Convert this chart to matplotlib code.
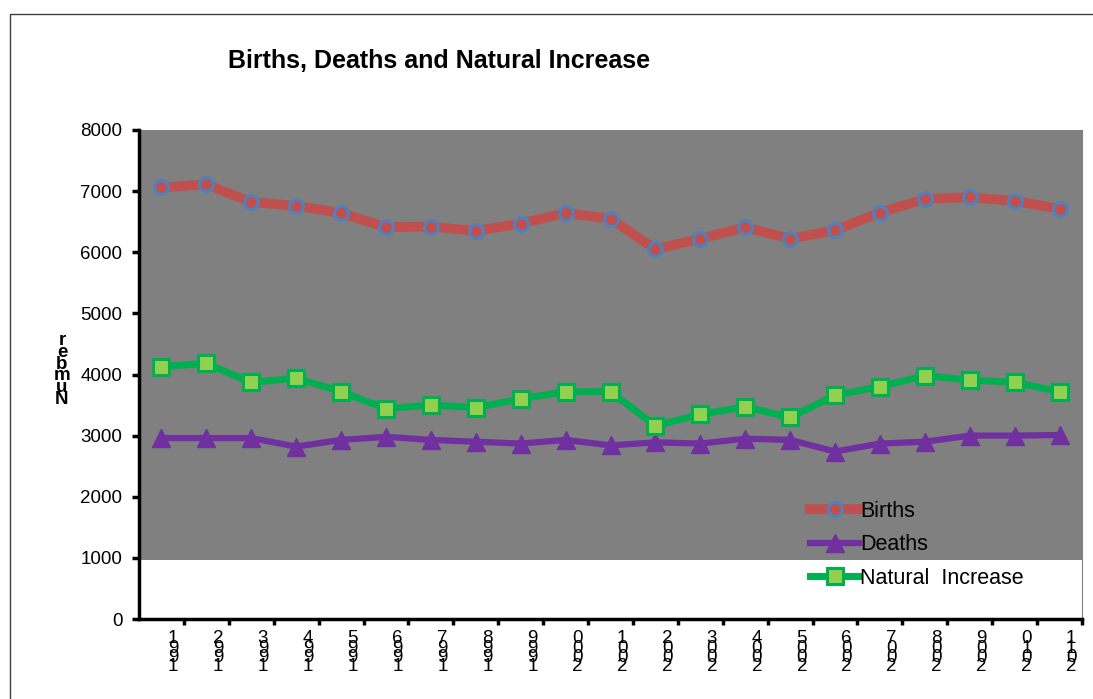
"""Births, deaths and natural increase, 1991-2011, redrawn in the old spreadsheet style."""

import matplotlib

matplotlib.use("Agg")
import matplotlib.pyplot as plt
from matplotlib.patches import Rectangle
import numpy as np

plt.rcParams["font.family"] = ["Liberation Sans", "DejaVu Sans"]

# data
years = [str(y) for y in range(1991, 2012)]
births = [7060, 7110, 6820, 6760, 6640, 6410, 6420, 6350, 6470, 6640, 6550,
          6050, 6220, 6410, 6220, 6360, 6650, 6870, 6900, 6840, 6710]
deaths = [2960, 2960, 2960, 2820, 2930, 2980, 2930, 2900, 2870, 2930, 2840,
          2890, 2870, 2950, 2930, 2740, 2870, 2900, 3000, 3000, 3010]
natural_increase = [4130, 4180, 3870, 3940, 3720, 3440, 3500, 3460, 3600, 3720, 3720,
                    3160, 3350, 3470, 3300, 3660, 3800, 3980, 3910, 3870, 3720]
y_ticks = list(range(0, 8001, 1000))

PLOT_GRAY = "#808080"
GRAY_FLOOR = 965  # the grey plot fill stops a little above 1000


def stacked(s):
    # the old chart wrote each label vertically, last character on top
    return "\n".join(reversed(s))


def main():
    fig = plt.figure(figsize=(10.93, 6.99), dpi=100)
    ax = fig.add_axes([139 / 1093, 1 - 619 / 699, (1082 - 139) / 1093, (619 - 130) / 699])

    x = np.arange(len(years))
    ax.set_xlim(-0.5, len(years) - 0.5)
    ax.set_ylim(0, 8000)

    ax.axhspan(GRAY_FLOOR, 8000, facecolor=PLOT_GRAY, edgecolor="none", zorder=0)

    ax.plot(x, births, color="#C0504D", lw=7, marker="o", ms=10,
            mfc="#C0504D", mec="#4F81BD", mew=2.2, label="Births", zorder=3)
    ax.plot(x, deaths, color="#7030A0", lw=4.5, marker="^", ms=13,
            mfc="#7030A0", mec="#7030A0", label="Deaths", zorder=3)
    ax.plot(x, natural_increase, color="#00B050", lw=5, marker="s", ms=11.5,
            mfc="#92D050", mec="#00B050", mew=2.2, label="Natural  Increase", zorder=3)

    # tick marks sit between categories, labels are nudged right like the original
    ax.set_xticks(np.arange(len(years)) + 0.5)
    ax.set_xticklabels([])
    ax.tick_params(axis="x", which="major", length=4, width=2.5, direction="out")
    ax.set_xticks(x + 0.26, minor=True)
    ax.set_xticklabels([stacked(y) for y in years], minor=True, fontsize=13.5,
                       linespacing=0.42, va="top")
    ax.tick_params(axis="x", which="minor", length=0, pad=8)

    ax.set_yticks(y_ticks)
    ax.set_yticklabels([str(v) for v in y_ticks], fontsize=13.5)
    ax.tick_params(axis="y", length=5, width=2.5, direction="out", pad=7)

    for side in ["left", "bottom"]:
        ax.spines[side].set_linewidth(2.5)
        ax.spines[side].set_color("black")
    ax.spines["right"].set_color(PLOT_GRAY)
    ax.spines["top"].set_visible(False)

    ax.legend(loc="upper left", bbox_to_anchor=(799 / 1093, 1 - 490 / 699),
              bbox_transform=fig.transFigure, frameon=False, fontsize=15.5,
              handlelength=2.3, handletextpad=0.05, labelspacing=0.58, borderpad=0)

    fig.text(228 / 1093, 1 - 61 / 699, "Births, Deaths and Natural Increase",
             fontsize=18, fontweight="bold", ha="left", va="center")
    fig.text(62 / 1093, 1 - 370 / 699, stacked("Number"), fontsize=13.5,
             fontweight="bold", ha="center", va="center", linespacing=0.6)

    fig.patches.append(Rectangle((10 / 1093, -0.1), 1.2, 1 - 14 / 699 + 0.1,
                                 transform=fig.transFigure, fill=False,
                                 edgecolor="#404040", lw=1))

    fig.savefig("out.png", dpi=100)


if __name__ == "__main__":
    main()
